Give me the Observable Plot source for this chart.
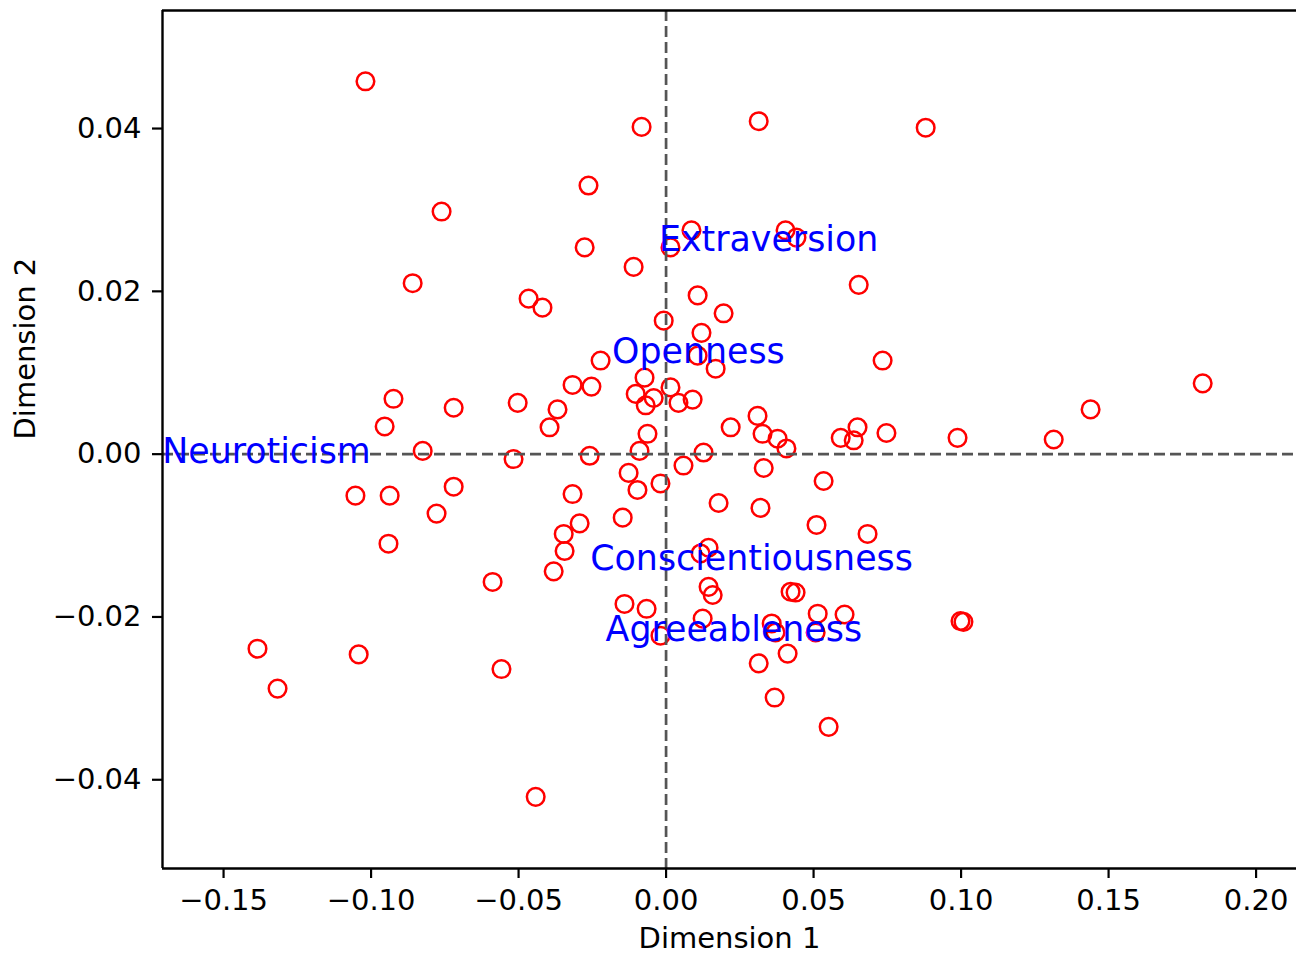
<!DOCTYPE html>
<html><head><meta charset="utf-8">
<script src="https://cdn.jsdelivr.net/npm/d3@7"></script>
<script src="https://cdn.jsdelivr.net/npm/@observablehq/plot@0.6"></script>
<style>html,body{margin:0;padding:0;background:#fff;overflow:hidden} svg{display:block}</style>
</head><body><div id="chart"></div>
<script>
// Respondent scores (Dimension 1, Dimension 2)
const dim1 = [-0.1019,-0.0083,0.0314,0.0880,-0.0263,-0.0761,-0.0276,0.0086,0.0015,0.0405,
  0.0442,-0.0110,-0.0859,-0.0466,-0.0419,0.0653,0.0107,0.0195,-0.0008,0.0120,
  -0.0222,0.0107,0.0168,-0.0073,0.0734,0.1819,-0.0317,-0.0253,-0.0103,0.0015,
  -0.0042,-0.0069,0.0042,0.0090,-0.0924,-0.0720,-0.0503,-0.0368,0.1439,-0.0954,
  -0.0395,-0.0063,0.0219,0.0310,0.0327,0.0378,0.0408,0.0592,0.0649,0.0636,
  0.0747,0.0988,0.1314,-0.0825,-0.0517,-0.0259,-0.0090,0.0127,0.0059,0.0331,
  -0.0127,0.0534,-0.1053,-0.0937,-0.0720,-0.0317,-0.0097,-0.0019,-0.0778,0.0178,
  0.0320,-0.0293,-0.0147,0.0510,0.0683,-0.0347,-0.0941,-0.0344,0.0144,0.0117,
  -0.0381,-0.0588,0.0144,0.0158,0.0422,0.0439,-0.0141,-0.0066,0.0124,0.0358,
  0.0371,0.0514,0.0507,0.0605,0.0998,0.1008,-0.0019,-0.1385,-0.1042,0.0412,
  0.0314,-0.0558,-0.1317,0.0368,0.0551,-0.0442];
const dim2 = [0.0458,0.0402,0.0409,0.0401,0.0330,0.0298,0.0254,0.0275,0.0254,0.0275,
  0.0266,0.0230,0.0210,0.0191,0.0180,0.0208,0.0195,0.0173,0.0164,0.0149,
  0.0115,0.0121,0.0105,0.0094,0.0115,0.0087,0.0085,0.0083,0.0074,0.0082,
  0.0069,0.0060,0.0063,0.0067,0.0068,0.0057,0.0063,0.0055,0.0055,0.0034,
  0.0033,0.0025,0.0033,0.0047,0.0025,0.0019,0.0007,0.0020,0.0033,0.0017,
  0.0026,0.0020,0.0018,0.0004,-0.0006,-0.0002,0.0004,0.0002,-0.0014,-0.0017,
  -0.0023,-0.0033,-0.0051,-0.0051,-0.0040,-0.0049,-0.0044,-0.0036,-0.0073,-0.0060,
  -0.0066,-0.0085,-0.0078,-0.0087,-0.0098,-0.0098,-0.0110,-0.0119,-0.0115,-0.0122,
  -0.0144,-0.0157,-0.0163,-0.0173,-0.0169,-0.0170,-0.0184,-0.0190,-0.0202,-0.0208,
  -0.0219,-0.0196,-0.0219,-0.0197,-0.0205,-0.0206,-0.0223,-0.0239,-0.0246,-0.0245,
  -0.0257,-0.0264,-0.0288,-0.0299,-0.0335,-0.0421];

// Trait label positions
const traitNames = ["Extraversion","Openness","Neuroticism","Conscientiousness","Agreeableness"];
const traitDim1 = [-0.0024,-0.0183,-0.1708,-0.0257,-0.0205];
const traitDim2 = [0.0250,0.0112,-0.0011,-0.0142,-0.0229];

const xTicks = [-0.15,-0.10,-0.05,0.00,0.05,0.10,0.15,0.20];
const yTicks = [-0.04,-0.02,0.00,0.02,0.04];
const xDomain = [-0.1707, 0.2137];
const yDomain = [-0.0509, 0.0545];
const zeroLine = [0];

const points = dim1.map((d, i) => ({d1: d, d2: dim2[i]}));
const traits = traitNames.map((t, i) => ({name: t, d1: traitDim1[i], d2: traitDim2[i]}));

const fmt = d3.format(".2f");

const chart = Plot.plot({
  width: 1296,
  height: 953,
  marginLeft: 162,
  marginRight: 0,
  marginTop: 10,
  marginBottom: 85,
  style: {fontFamily: "DejaVu Sans", fontSize: "29px", color: "black", background: "white"},
  x: {domain: xDomain},
  y: {domain: yDomain},
  marks: [
    Plot.dot(points, {x: "d1", y: "d2", r: 8.8, stroke: "red", fill: "none", strokeWidth: 2.5}),
    Plot.ruleX(zeroLine, {stroke: "#555555", strokeWidth: 2.7, strokeDasharray: "11,5"}),
    Plot.ruleY(zeroLine, {stroke: "#555555", strokeWidth: 2.7, strokeDasharray: "11,5"}),
    Plot.text(traits, {x: "d1", y: "d2", text: "name", fill: "blue", fontSize: 34.8, textAnchor: "start", lineAnchor: "bottom"}),
    Plot.ruleX([xDomain[0]], {stroke: "black", strokeWidth: 2.4}),
    Plot.ruleY(yDomain, {stroke: "black", strokeWidth: 2.4}),
    Plot.axisX({ticks: xTicks, tickFormat: fmt, tickSize: 10, tickPadding: 11, fontSize: 29, strokeWidth: 2.2, label: null}),
    Plot.axisY({ticks: yTicks, tickFormat: fmt, tickSize: 10, tickPadding: 11, fontSize: 29, strokeWidth: 2.2, label: null}),
    Plot.text(["Dimension 1"], {frameAnchor: "bottom", dy: 59, lineAnchor: "top", fontSize: 29}),
    Plot.text(["Dimension 2"], {frameAnchor: "left", rotate: -90, dx: -137, lineAnchor: "middle", fontSize: 29})
  ]
});
document.getElementById("chart").appendChild(chart);
</script>
</body></html>
